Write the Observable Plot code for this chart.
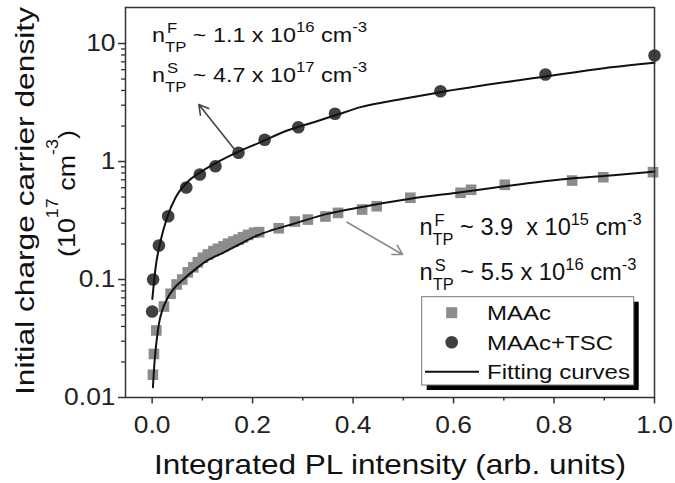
<!DOCTYPE html>
<html><head><meta charset="utf-8">
<script src="https://cdn.jsdelivr.net/npm/d3@7"></script>
<script src="https://cdn.jsdelivr.net/npm/@observablehq/plot@0.6"></script>
<style>
html,body{margin:0;padding:0;background:#fff;}
#chart{width:675px;height:483px;}
svg text{white-space:pre;}
</style></head><body><div id="chart"></div>
<script>
// ---- data ----
const maacX = [0.0016,0.0036,0.0084,0.0235,0.0368,0.0488,0.060,0.071,0.082,0.091,0.101,0.111,0.122,0.131,0.142,0.151,0.162,0.172,0.181,0.191,0.203,0.213,0.252,0.284,0.310,0.345,0.370,0.418,0.447,0.514,0.614,0.635,0.702,0.836,0.898,0.997];
const maacY = [0.0156,0.0234,0.037,0.059,0.0757,0.0907,0.100,0.115,0.127,0.140,0.153,0.163,0.174,0.182,0.191,0.201,0.210,0.218,0.228,0.239,0.249,0.252,0.272,0.310,0.322,0.342,0.367,0.392,0.418,0.493,0.543,0.576,0.635,0.690,0.736,0.812];
const tscX = [0.000,0.002,0.0135,0.032,0.068,0.095,0.126,0.172,0.224,0.291,0.364,0.574,0.783,1.0];
const tscY = [0.0536,0.100,0.194,0.344,0.603,0.776,0.912,1.186,1.53,1.95,2.54,3.94,5.46,7.91];
const fitTscX = [0.0004,0.007,0.017,0.030,0.047,0.070,0.0965,0.130,0.170,0.216,0.269,0.322,0.369,0.415,0.5,0.574,0.783,0.9,1.0];
const fitTscY = [0.0685,0.127,0.214,0.337,0.498,0.668,0.812,0.986,1.20,1.46,1.83,2.15,2.50,2.89,3.40,3.87,5.25,6.18,6.86];
const fitMaacX = [0.0016,0.005,0.009,0.0135,0.020,0.030,0.043,0.063,0.087,0.110,0.143,0.176,0.209,0.236,0.282,0.349,0.415,0.514,0.614,0.713,0.813,0.912,1.0];
const fitMaacY = [0.0122,0.0206,0.0304,0.0421,0.0546,0.0686,0.0834,0.101,0.123,0.145,0.170,0.201,0.236,0.260,0.297,0.360,0.410,0.483,0.549,0.626,0.703,0.761,0.823];
const xTicks = [0, 0.2, 0.4, 0.6, 0.8, 1.0];
const xMinor = [0.1, 0.3, 0.5, 0.7, 0.9];
const yTicks = [0.01, 0.1, 1, 10];
const yMinor = [0.02,0.03,0.04,0.05,0.06,0.07,0.08,0.09,0.2,0.3,0.4,0.5,0.6,0.7,0.8,0.9,2,3,4,5,6,7,8,9];
const seriesNames = ["MAAc", "MAAc+TSC", "Fitting curves"];
const xTitle = "Integrated PL intensity (arb. units)";
const yTitle = "Initial charge carrier density";

const FONT = '"Liberation Sans", Arial, Helvetica, sans-serif';
const zip = (xs, ys) => xs.map((x, i) => ({x, y: ys[i]}));
const maac = zip(maacX, maacY), tsc = zip(tscX, tscY);
const fitTsc = zip(fitTscX, fitTscY), fitMaac = zip(fitMaacX, fitMaacY);

const plot = Plot.plot({
  width: 675, height: 483,
  marginLeft: 125, marginRight: 21, marginTop: 7, marginBottom: 86,
  style: {fontFamily: FONT, background: "#fff", color: "#222"},
  x: {domain: [-0.053, 1.0], axis: null},
  y: {type: "log", domain: [0.01, 20.2], axis: null},
  marks: [
    Plot.axisX({ticks: xMinor, tickSize: 3.5, tickFormat: () => "", stroke: "#333", strokeWidth: 1.5}),
    Plot.axisX({ticks: xTicks, tickSize: 6.5, tickPadding: 12, tickFormat: d => d.toFixed(1), fontSize: 24, stroke: "#333", strokeWidth: 1.5}),
    Plot.axisY({ticks: yMinor, tickSize: 4, tickFormat: () => "", stroke: "#333", strokeWidth: 1.3}),
    Plot.axisY({ticks: yTicks, tickSize: 7, tickPadding: 3, tickFormat: d => String(d), fontSize: 24, stroke: "#333", strokeWidth: 1.5}),
    Plot.dot(maac, {x: "x", y: "y", symbol: "square", r: 6, fill: "#8c8c8c"}),
    Plot.dot(tsc, {x: "x", y: "y", r: 6.3, fill: "#404040"}),
    Plot.line(fitTsc, {x: "x", y: "y", curve: "monotone-x", stroke: "#111", strokeWidth: 2}),
    Plot.line(fitMaac, {x: "x", y: "y", curve: "monotone-x", stroke: "#111", strokeWidth: 2}),
    Plot.arrow([{x1: 0.163, y1: 1.28, x2: 0.093, y2: 3.04}], {x1: "x1", y1: "y1", x2: "x2", y2: "y2", stroke: "#444", strokeWidth: 1.6, headLength: 10}),
    Plot.arrow([{x1: 0.388, y1: 0.306, x2: 0.4985, y2: 0.163}], {x1: "x1", y1: "y1", x2: "x2", y2: "y2", stroke: "#8a8a8a", strokeWidth: 1.6, headLength: 10}),
    Plot.frame({stroke: "#333", strokeWidth: 1.5})
  ]
});
document.getElementById("chart").append(plot);
const svg = d3.select(plot);

// stretch tick labels a little (reference glyphs are wide)
svg.selectAll('g[aria-label$="tick label"] text').each(function() {
  const w = this.getComputedTextLength();
  if (w > 0) { this.setAttribute("textLength", w * 1.1); this.setAttribute("lengthAdjust", "spacingAndGlyphs"); }
});

function richText(parent, pieces, opt) {
  const g = parent.append("g").attr("text-anchor", "start");
  let cx = 0; const items = [];
  for (const p of pieces) {
    const t = g.append("text").attr("x", cx).attr("y", p.dy || 0)
      .attr("text-anchor", "start")
      .attr("font-size", p.s).attr("font-family", FONT).attr("fill", opt.fill || "#111")
      .attr("xml:space", "preserve").style("white-space", "pre").text(p.t);
    const w = t.node().getComputedTextLength();
    items.push({t, w, p});
    if (!p.noAdv) cx += w;
  }
  const k = opt.target ? opt.target / cx : (opt.k || 1);
  let x = 0;
  for (const it of items) {
    const ww = it.w * k;
    it.t.attr("x", x + (it.p.dx || 0)).attr("textLength", ww).attr("lengthAdjust", "spacingAndGlyphs");
    if (!it.p.noAdv) x += ww;
  }
  const shift = opt.anchor === "middle" ? -x / 2 : 0;
  g.attr("transform", `translate(${opt.x},${opt.y})${opt.rotate ? ` rotate(${opt.rotate})` : ""} translate(${shift},0)`);
  return g;
}
function nLabel(sup, rest, exp, big, small) {
  return [
    {t: "n", s: big},
    {t: sup, s: small, dy: -9, dx: 2, noAdv: true},
    {t: "TP", s: small, dy: 10},
    {t: rest, s: big},
    {t: exp, s: small, dy: -10},
    {t: " cm", s: big},
    {t: "-3", s: small, dy: -10}
  ];
}
// annotations
richText(svg, nLabel("F", " ~ 1.1 x 10", "16", 21, 15), {x: 152, y: 41.7, target: 215});
richText(svg, nLabel("S", " ~ 4.7 x 10", "17", 21, 15), {x: 152, y: 81.7, target: 215});
richText(svg, nLabel("F", " ~ 3.9  x 10", "15", 23, 16), {x: 419.5, y: 235, target: 222});
richText(svg, nLabel("S", " ~ 5.5 x 10", "16", 23, 16), {x: 419.5, y: 280, target: 217});

// axis titles
richText(svg, [{t: xTitle, s: 28}], {x: 390, y: 474, anchor: "middle", target: 472});
richText(svg, [{t: yTitle, s: 26}], {x: 34, y: 201, rotate: -90, anchor: "middle", target: 388});
richText(svg, [{t: "(10", s: 24}, {t: "17", s: 16, dy: -17}, {t: " cm", s: 24}, {t: "-3", s: 16, dy: -17}, {t: ")", s: 24}],
  {x: 75, y: 193.5, rotate: -90, anchor: "middle", target: 127});

// legend
const lg = svg.append("g");
lg.append("rect").attr("x", 426.7).attr("y", 301.7).attr("width", 212).attr("height", 88.3).attr("fill", "#000");
lg.append("rect").attr("x", 421.7).attr("y", 296.7).attr("width", 212).attr("height", 88.3).attr("fill", "#fff").attr("stroke", "#777").attr("stroke-width", 1);
lg.append("rect").attr("x", 446.2).attr("y", 307.2).attr("width", 11).attr("height", 11).attr("fill", "#8c8c8c");
lg.append("circle").attr("cx", 451.7).attr("cy", 342.3).attr("r", 6.3).attr("fill", "#404040");
lg.append("line").attr("x1", 425).attr("x2", 479).attr("y1", 371.7).attr("y2", 371.7).attr("stroke", "#111").attr("stroke-width", 2);
richText(lg, [{t: seriesNames[0], s: 20}], {x: 487, y: 320, k: 1.2});
richText(lg, [{t: seriesNames[1], s: 20}], {x: 487, y: 350, k: 1.2});
richText(lg, [{t: seriesNames[2], s: 20}], {x: 487, y: 379, target: 143});
</script></body></html>
